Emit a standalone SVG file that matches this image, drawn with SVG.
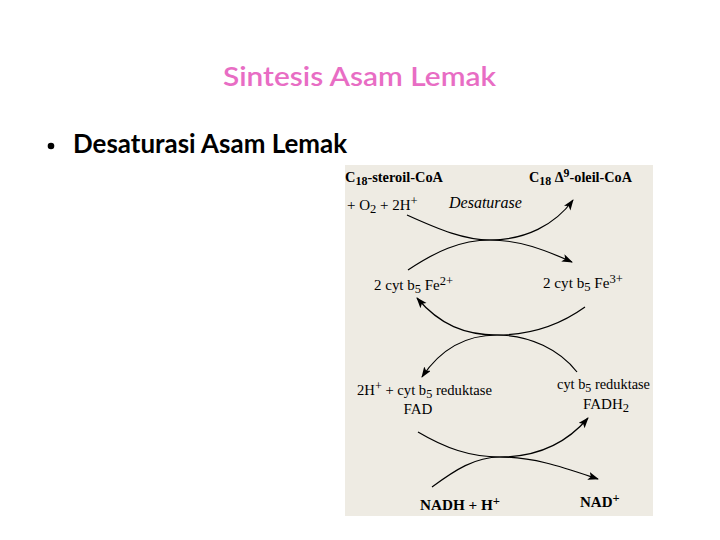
<svg xmlns="http://www.w3.org/2000/svg" width="720" height="540" viewBox="0 0 720 540">
<style>
.title{font-family:Lato,"Open Sans","Liberation Sans",sans-serif;font-size:27px;font-weight:600;fill:#e86dc4}
.bullet{font-family:Lato,"Open Sans","Liberation Sans",sans-serif;font-size:26px;font-weight:bold;fill:#000}
.t{font-family:"Liberation Serif","DejaVu Serif",serif;font-size:15px;fill:#000}
.b{font-weight:bold}
.i{font-style:italic}
.s{font-size:12.5px}
.c{fill:none;stroke:#000;stroke-width:1.2;marker-end:url(#ah)}
</style>
<defs>
<marker id="ah" markerUnits="userSpaceOnUse" markerWidth="12" markerHeight="9" refX="10" refY="4" orient="auto">
<path d="M0,0 L11,4 L0,8 L2.5,4 z" fill="#000"/>
</marker>
</defs>
<rect width="720" height="540" fill="#fff"/>
<text class="title" x="223" y="86" textLength="273" lengthAdjust="spacingAndGlyphs">Sintesis Asam Lemak</text>
<circle cx="51" cy="146" r="3.3" fill="#000"/>
<text class="bullet" x="73" y="153" textLength="274" lengthAdjust="spacingAndGlyphs">Desaturasi Asam Lemak</text>
<rect id="panel" x="345" y="165" width="308" height="351" fill="#eeebe3"/>
<g id="n1"><text class="t b" x="345" y="182" textLength="98" lengthAdjust="spacingAndGlyphs">C<tspan class="s" dy="3">18</tspan><tspan dy="-3">-steroil-CoA</tspan></text></g>
<g id="n2"><text class="t b" x="529" y="182" textLength="103" lengthAdjust="spacingAndGlyphs">C<tspan class="s" dy="3">18</tspan><tspan dy="-3"> Δ</tspan><tspan class="s" dy="-5">9</tspan><tspan dy="5">-oleil-CoA</tspan></text></g>
<g id="n3"><text class="t" x="347" y="210">+ O<tspan class="s" dy="3">2</tspan><tspan dy="-3"> + 2H</tspan><tspan class="s" dy="-5">+</tspan></text></g>
<g id="n4"><text class="t i" x="449" y="208" style="font-size:16px">Desaturase</text></g>
<g id="n5"><text class="t" x="374" y="290" textLength="79" lengthAdjust="spacingAndGlyphs">2 cyt b<tspan class="s" dy="3">5</tspan><tspan dy="-3"> Fe</tspan><tspan class="s" dy="-5">2+</tspan></text></g>
<g id="n6"><text class="t" x="543" y="288" textLength="80" lengthAdjust="spacingAndGlyphs">2 cyt b<tspan class="s" dy="3">5</tspan><tspan dy="-3"> Fe</tspan><tspan class="s" dy="-5">3+</tspan></text></g>
<g id="n7"><text class="t" x="357" y="395" textLength="135" lengthAdjust="spacingAndGlyphs">2H<tspan class="s" dy="-5">+</tspan><tspan dy="5"> + cyt b</tspan><tspan class="s" dy="3">5</tspan><tspan dy="-3"> reduktase</tspan></text>
<text class="t" x="418" y="414" text-anchor="middle">FAD</text></g>
<g id="n8"><text class="t" x="557" y="389" textLength="93" lengthAdjust="spacingAndGlyphs">cyt b<tspan class="s" dy="3">5</tspan><tspan dy="-3"> reduktase</tspan></text>
<text class="t" x="583" y="409">FADH<tspan class="s" dy="3">2</tspan></text></g>
<g id="n9"><text class="t b" x="420" y="510" textLength="80" lengthAdjust="spacingAndGlyphs">NADH + H<tspan class="s" dy="-5">+</tspan></text></g>
<g id="n10"><text class="t b" x="580" y="507">NAD<tspan class="s" dy="-5">+</tspan></text></g>
<g id="connectors">
<path class="c" d="M407,215 C440,230 465,240 490,240 C520,240 545,250 572,262"/>
<path class="c" d="M408,270 C435,252 460,240 490,240 C525,240 555,225 573,200"/>
<path class="c" d="M585,307 C560,325 530,335 497,335 C465,335 440,325 417,298"/>
<path class="c" d="M577,372 C560,350 530,335 497,335 C465,335 440,350 422,377"/>
<path class="c" d="M418,432 C445,448 470,457 500,457 C535,457 565,468 598,479"/>
<path class="c" d="M432,487 C455,470 475,457 500,457 C535,457 565,445 588,418"/>
</g>
</svg>
